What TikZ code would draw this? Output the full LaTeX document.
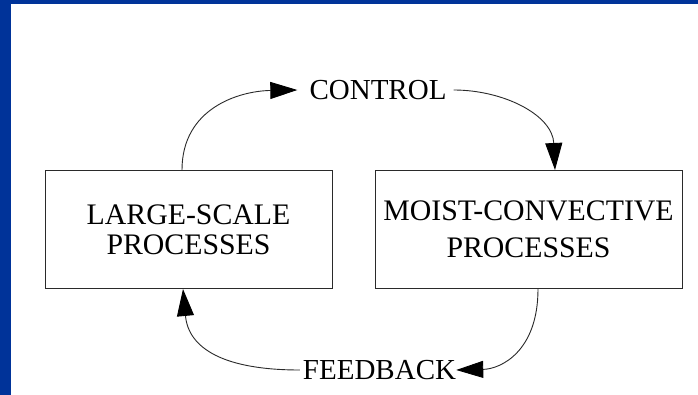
\documentclass[tikz,border=0pt]{standalone}
\usepackage{fontspec}
\setmainfont{Liberation Serif}
\usetikzlibrary{arrows.meta,calc}

\definecolor{frameblue}{HTML}{003399}
\definecolor{inkgray}{HTML}{2A2A2A}

\tikzset{
  procbox/.style={draw=inkgray, line width=1pt, minimum height=118pt,
    align=center, inner sep=0pt,
    font=\fontsize{29.8}{30}\selectfont},
  looplabel/.style={inner sep=0pt, font=\fontsize{29}{30}\selectfont},
  loopline/.style={draw=inkgray, line width=0.9pt,
    -{Triangle[length=27pt,width=17pt,fill=black,color=black]}},
}

\begin{document}
\begin{tikzpicture}[x=1pt,y=-1pt]
  % page frame: blue band on the top and left edges
  \fill[frameblue] (0,0) rectangle (698,395);
  \fill[white] (11,4) rectangle (698,395);
  \useasboundingbox (0,0) rectangle (698,395);

  % the two process boxes
  \node[procbox, minimum width=287pt] (large) at (188.5,229.5)
    {LARGE-SCALE\\PROCESSES};
  \node[procbox, minimum width=307pt] (moist) at (528.5,229.5)
    {MOIST-CONVECTIVE\\[7pt]PROCESSES};

  % loop labels
  \node[looplabel] (control) at (378,90) {CONTROL};
  \node[looplabel] (feedback) at (379.5,370) {FEEDBACK};

  % control: large-scale -> control -> moist-convective
  \draw[loopline] ([xshift=-6.5pt]large.north)
    .. controls ++(0,-62) and ($(control.west)+(-70,1)$) ..
    ([xshift=-12pt]control.west);
  \draw[loopline] ([xshift=7pt]control.east)
    .. controls ++(50,0) and ($(moist.north)+(24,-55)$) ..
    ([xshift=26.5pt]moist.north);

  % feedback: moist-convective -> feedback -> large-scale
  \draw[loopline] ([xshift=9.5pt]moist.south)
    .. controls ++(0,62) and ($(feedback.east)+(45,-1)$) ..
    ([xshift=0pt]feedback.east);
  \draw[loopline] ([xshift=-3pt]feedback.west)
    .. controls ++(-75,0) and ($(large.south)+(0,60)$) ..
    ([xshift=-5.5pt]large.south);
\end{tikzpicture}
\end{document}
